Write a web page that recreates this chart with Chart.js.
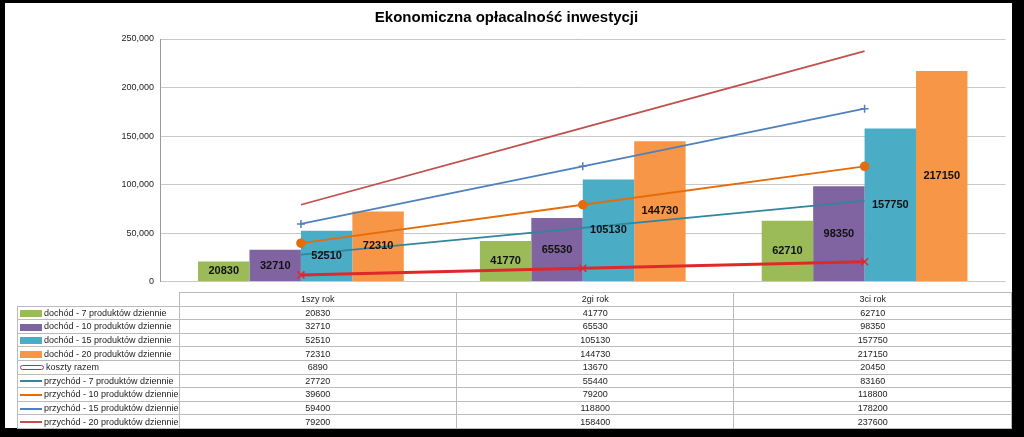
<!DOCTYPE html>
<html><head><meta charset="utf-8">
<script src="https://cdn.jsdelivr.net/npm/chart.js@4"></script>
<style>
body{margin:0;background:#000;width:1024px;height:437px;overflow:hidden;font-family:Calibri,"Liberation Sans","DejaVu Sans",sans-serif;}
#panel{position:absolute;left:5px;top:3px;width:1007px;height:425px;background:#fff;}
#cw{position:absolute;left:0;top:0;width:1007px;height:290px;}
table{position:absolute;left:12px;top:289px;border-collapse:collapse;font-size:9px;color:#222;font-family:"Liberation Sans",sans-serif;}
td{border:1px solid #bbb;height:12.6px;padding:0;text-align:center;}
td.l{text-align:left;width:146px;padding-left:2px;white-space:nowrap;}
td.v{width:282px;}
.sw{display:inline-block;width:22px;vertical-align:middle;margin-right:2px;}
</style></head><body>
<div id="panel"><div id="cw"><canvas id="c"></canvas></div><table id="t"></table></div>
<script>
const categories=['1szy rok','2gi rok','3ci rok'];
const dochod7=[20830,41770,62710];
const dochod10=[32710,65530,98350];
const dochod15=[52510,105130,157750];
const dochod20=[72310,144730,217150];
const koszty=[6890,13670,20450];
const przychod7=[27720,55440,83160];
const przychod10=[39600,79200,118800];
const przychod15=[59400,118800,178200];
const przychod20=[79200,158400,237600];
const yTicks=[0,50000,100000,150000,200000,250000];

const bars=[
 ['dochód - 7 produktów dziennie',dochod7,'#9BBB59'],
 ['dochód - 10 produktów dziennie',dochod10,'#8064A2'],
 ['dochód - 15 produktów dziennie',dochod15,'#4BACC6'],
 ['dochód - 20 produktów dziennie',dochod20,'#F79646']];
const lines=[
 ['koszty razem',koszty,'#E0282A','crossRot',5],
 ['przychód - 7 produktów dziennie',przychod7,'#31859C','line',0],
 ['przychód - 10 produktów dziennie',przychod10,'#E46C0A','circle',4],
 ['przychód - 15 produktów dziennie',przychod15,'#4F81BD','cross',4],
 ['przychód - 20 produktów dziennie',przychod20,'#C0504D','line',0]];

const datasets=[];
lines.forEach(l=>datasets.push({type:'line',label:l[0],data:l[1],borderColor:l[2],backgroundColor:l[2],
 borderWidth:l[0]==='koszty razem'?3:1.8,pointStyle:l[3],pointRadius:l[4],pointBorderWidth:1.5,order:0}));
bars.forEach(b=>datasets.push({type:'bar',label:b[0],data:b[1],backgroundColor:b[2],
 categoryPercentage:0.73,barPercentage:1,order:1}));

const labelPlugin={id:'lbl',afterDatasetsDraw(ch){
 const ctx=ch.ctx;ctx.save();ctx.font='bold 11px "Liberation Sans",sans-serif';ctx.fillStyle='#111';
 ctx.textAlign='center';ctx.textBaseline='middle';
 ch.data.datasets.forEach((d,i)=>{if(d.type!=='bar')return;
  ch.getDatasetMeta(i).data.forEach((el,j)=>{ctx.fillText(d.data[j],el.x,(el.y+el.base)/2);});});
 ctx.restore();}};

new Chart(document.getElementById('c'),{data:{labels:categories,datasets},
 options:{responsive:true,maintainAspectRatio:false,animation:false,
  layout:{padding:{top:0,right:4,bottom:0,left:0}},
  plugins:{legend:{display:false},tooltip:{enabled:false},
   title:{display:true,text:'Ekonomiczna opłacalność inwestycji',color:'#000',
    font:{size:15,weight:'bold',family:'"Liberation Sans",sans-serif'},padding:{top:6,bottom:12}}},
  scales:{x:{display:false,offset:true},
   y:{min:0,max:250000,afterBuildTicks:s=>{s.ticks=yTicks.map(v=>({value:v}));},
    afterFit:s=>{s.width=155;},
    ticks:{color:'#222',font:{size:9,family:'"Liberation Sans",sans-serif'},padding:6},
    grid:{color:'#c8c8c8',drawTicks:false},border:{color:'#999'}}}},
 plugins:[labelPlugin]});

const t=document.getElementById('t');
let h='<tr><td class="l" style="border:none;border-right:1px solid #bbb"></td>'+categories.map(c=>'<td class="v">'+c+'</td>').join('')+'</tr>';
bars.forEach(b=>{h+='<tr><td class="l"><span class="sw" style="height:7px;background:'+b[2]+'"></span>'+b[0]+'</td>'+b[1].map(v=>'<td>'+v+'</td>').join('')+'</tr>';});
lines.forEach(l=>{let sw=l[0]==='koszty razem'?'<span class="sw" style="height:3px;border:1.5px solid '+l[2]+';border-radius:3px"></span>':
 '<span class="sw" style="height:2px;background:'+l[2]+'"></span>';
 h+='<tr><td class="l">'+sw+l[0]+'</td>'+l[1].map(v=>'<td>'+v+'</td>').join('')+'</tr>';});
t.innerHTML=h;
</script></body></html>
